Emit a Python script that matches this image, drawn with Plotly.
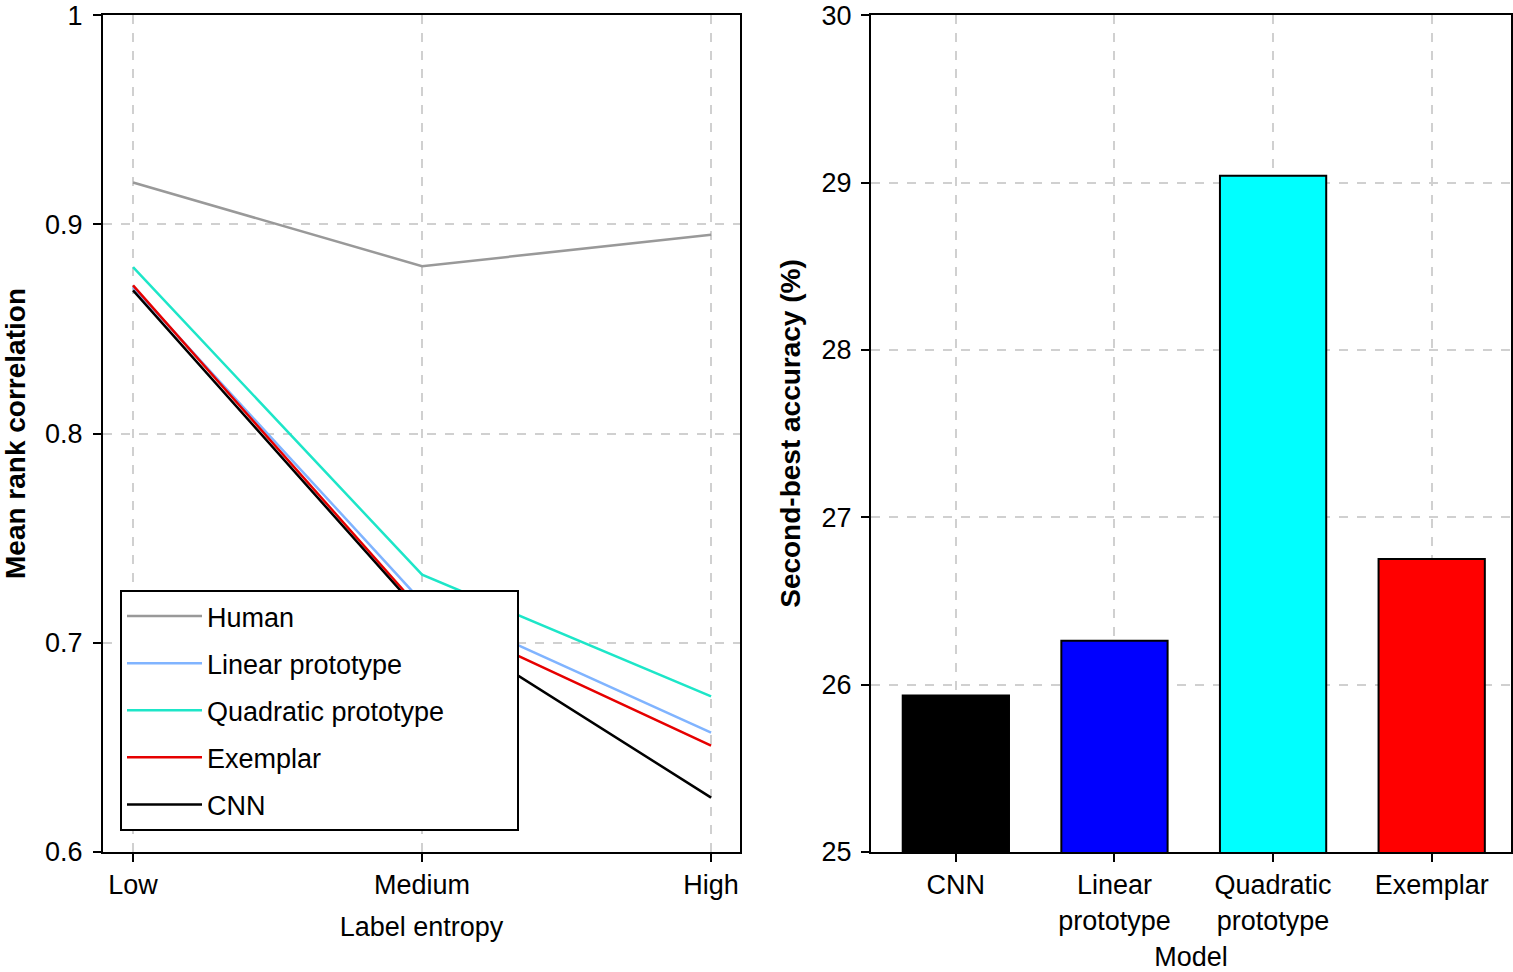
import plotly.graph_objects as go

# ---- data ----
entropy_levels = ["Low", "Medium", "High"]
human = [0.920, 0.880, 0.895]
linear_proto = [0.870, 0.7195, 0.657]
quadratic_proto = [0.8795, 0.7325, 0.6743]
exemplar = [0.8708, 0.715, 0.6508]
cnn = [0.8684, 0.7133, 0.6259]

line_series = [
    ("Human", human, "#999999"),
    ("Linear prototype", linear_proto, "#80b4ff"),
    ("Quadratic prototype", quadratic_proto, "#1de6c8"),
    ("Exemplar", exemplar, "#e60000"),
    ("CNN", cnn, "#000000"),
]

models = ["CNN", "Linear<br>prototype", "Quadratic<br>prototype", "Exemplar"]
second_best_acc = [25.935, 26.262, 29.04, 26.75]
bar_colors = ["#000000", "#0000ff", "#00ffff", "#ff0000"]

left_yticks = [0.6, 0.7, 0.8, 0.9, 1.0]
left_yticktext = ["0.6", "0.7", "0.8", "0.9", "1"]
right_yticks = [25, 26, 27, 28, 29, 30]

FONT = "Liberation Sans, Arial, Helvetica, sans-serif"
W, H = 1513, 972
ML, MR, MT, MB = 0, 2, 15, 120
PW = W - ML - MR
PH = H - MT - MB

# pad the longest legend label so the legend box is as wide as in the original
longest = max(len(n) for n, _, _ in line_series)

fig = go.Figure()

for name, vals, col in line_series:
    label = name + ("\u00a0" * 9 if len(name) == longest else "")
    fig.add_trace(go.Scatter(
        x=list(range(len(entropy_levels))), y=vals, mode="lines", name=label,
        legendgroup=name,
        line=dict(color=col, width=2.5), xaxis="x", yaxis="y",
    ))

fig.add_trace(go.Bar(
    x=list(range(len(models))), y=second_best_acc, base=0,
    marker=dict(color=bar_colors, line=dict(color="black", width=2)),
    width=0.67, showlegend=False, xaxis="x2", yaxis="y2",
))

common_axis = dict(
    showline=True, linecolor="black", linewidth=2, mirror=True,
    ticks="outside", ticklen=8, tickwidth=1.5, tickcolor="black",
    showgrid=True, gridcolor="#d0d0d0", griddash="dash", gridwidth=1.5,
    zeroline=False, tickfont=dict(family=FONT, size=27, color="black"),
    automargin=False, ticklabeloverflow="allow",
)

fig.update_layout(
    width=W, height=H,
    margin=dict(l=ML, r=MR, t=MT, b=MB),
    paper_bgcolor="white", plot_bgcolor="white",
    font=dict(family=FONT, size=27, color="black"),
    xaxis=dict(
        domain=[103 / PW, 740 / PW], range=[-0.104, 2.1],
        tickmode="array", tickvals=list(range(len(entropy_levels))), ticktext=entropy_levels,
        title=dict(text="Label entropy", font=dict(size=27), standoff=18),
        **common_axis,
    ),
    yaxis=dict(
        domain=[0, 1], range=[0.5999, 1.0001],
        tickmode="array", tickvals=left_yticks, ticktext=left_yticktext,
        title=dict(text="<b>Mean rank correlation</b>", font=dict(size=28), standoff=22),
        ticklabelstandoff=5,
        **common_axis,
    ),
    xaxis2=dict(
        domain=[871 / PW, 1.0], range=[-0.535, 3.5], anchor="y2",
        tickmode="array", tickvals=list(range(len(models))), ticktext=models,
        title=dict(text="Model", font=dict(size=27), standoff=23),
        **common_axis,
    ),
    yaxis2=dict(
        domain=[0, 1], range=[24.999, 30.001], anchor="x2",
        tickmode="array", tickvals=right_yticks,
        title=dict(text="<b>Second-best accuracy (%)</b>", font=dict(size=28), standoff=13),
        ticklabelstandoff=4,
        **common_axis,
    ),
    legend=dict(
        x=120 / PW, y=(852 - 590) / PH, xanchor="left", yanchor="top",
        bordercolor="black", borderwidth=2, bgcolor="white",
        font=dict(family=FONT, size=27, color="black"),
        tracegroupgap=9, itemwidth=75,
    ),
)

fig.write_html(
    "out.html",
    config={"displayModeBar": False},
    post_script="document.body.style.margin='0px';document.body.style.overflow='hidden';",
)
